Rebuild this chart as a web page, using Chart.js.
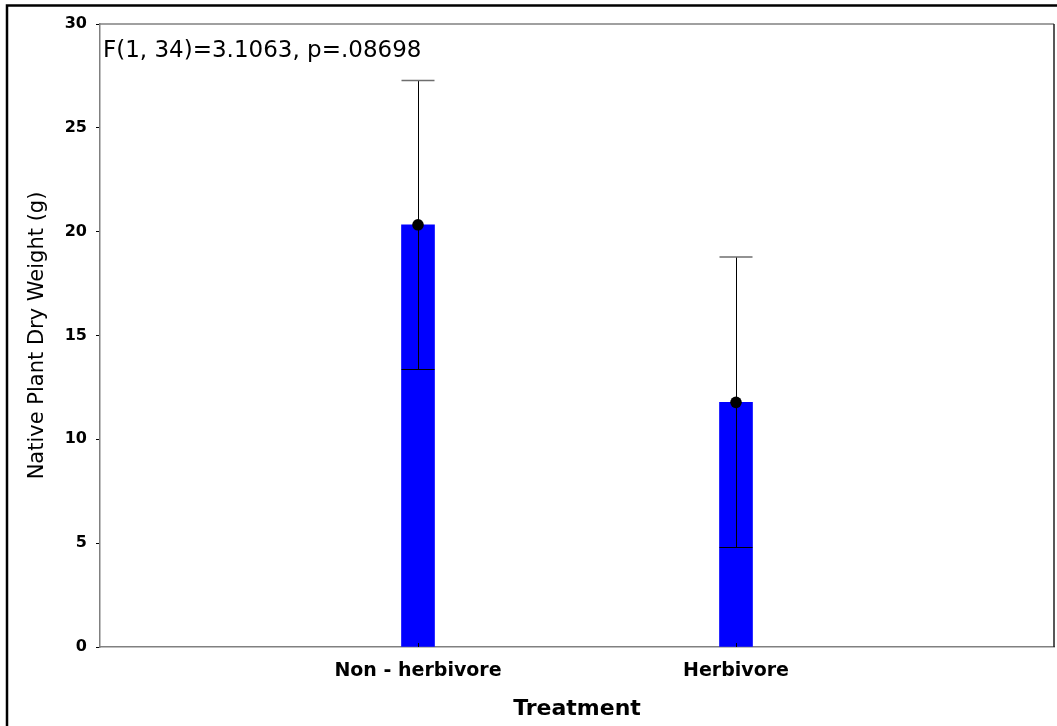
<!DOCTYPE html>
<html lang="en">
<head>
<meta charset="UTF-8">
<script src="https://cdn.jsdelivr.net/npm/chart.js"></script>
<style>
  html, body { margin: 0; padding: 0; background: #ffffff; }
  #wrap { width: 1057px; height: 726px; }
</style>
</head>
<body>
<div id="wrap"><canvas id="chart" width="1057" height="726"></canvas></div>
<script>
// values
const categories = ['Non - herbivore', 'Herbivore'];
const means = [20.33, 11.78];
const errUpper = [27.28, 18.78];
const errLower = [13.38, 4.80];
const yTicks = [0, 5, 10, 15, 20, 25, 30];
const statText = 'F(1, 34)=3.1063, p=.08698';

// empty slots at both ends put the two groups at 1/3 and 2/3 of the axis
const labels = ['', ...categories, ''];
const barData = [null, ...means, null];

const FONT = 'DejaVu Sans';

// error bars drawn right after the bars, before the mean dots
const errorBars = {
  id: 'errorBars',
  afterDatasetDraw(chart, args) {
    if (args.index !== 0) return;
    const ctx = chart.ctx;
    const y = chart.scales.y;
    args.meta.data.forEach((bar, i) => {
      const k = i - 1;
      if (k < 0 || k >= categories.length) return;
      const x = Math.round(bar.x) + 0.5;
      const half = bar.width / 2;
      const yt = y.getPixelForValue(errUpper[k]);
      const yb = y.getPixelForValue(errLower[k]);
      ctx.save();
      ctx.strokeStyle = '#000';
      ctx.lineWidth = 1;
      ctx.beginPath();
      ctx.moveTo(x, yt);
      ctx.lineTo(x, yb);
      ctx.stroke();
      // lower cap
      ctx.beginPath();
      ctx.moveTo(bar.x - half, Math.round(yb) + 0.5);
      ctx.lineTo(bar.x + half, Math.round(yb) + 0.5);
      ctx.stroke();
      // upper cap
      ctx.strokeStyle = '#6e6e6e';
      ctx.lineWidth = 1.5;
      ctx.beginPath();
      ctx.moveTo(bar.x - half, yt);
      ctx.lineTo(bar.x + half, yt);
      ctx.stroke();
      // small inner tick on the x axis
      ctx.strokeStyle = '#000';
      ctx.lineWidth = 1;
      ctx.beginPath();
      ctx.moveTo(x, chart.chartArea.bottom);
      ctx.lineTo(x, chart.chartArea.bottom - 4);
      ctx.stroke();
      ctx.restore();
    });
  }
};

// plot box, outer frame and the statistics note
const decor = {
  id: 'decor',
  beforeDraw(chart) {
    const ctx = chart.ctx;
    ctx.save();
    ctx.fillStyle = '#ffffff';
    ctx.fillRect(0, 0, chart.width, chart.height);
    ctx.restore();
  },
  afterDraw(chart) {
    const ctx = chart.ctx;
    const a = chart.chartArea;
    ctx.save();
    ctx.strokeStyle = '#808080';
    ctx.lineWidth = 1.5;
    ctx.beginPath();
    ctx.moveTo(a.left, a.top);
    ctx.lineTo(a.right, a.top);
    ctx.stroke();
    ctx.strokeStyle = '#202020';
    ctx.beginPath();
    ctx.moveTo(a.right, a.top);
    ctx.lineTo(a.right, a.bottom);
    ctx.stroke();

    ctx.strokeStyle = '#000';
    ctx.lineWidth = 2.5;
    ctx.beginPath();
    ctx.moveTo(chart.width, 5.5);
    ctx.lineTo(7, 5.5);
    ctx.lineTo(7, chart.height);
    ctx.stroke();

    ctx.fillStyle = '#000';
    ctx.font = '23px "' + FONT + '"';
    ctx.textBaseline = 'alphabetic';
    ctx.textAlign = 'left';
    ctx.fillText(statText, a.left + 3, a.top + 33);
    ctx.restore();
  }
};

new Chart(document.getElementById('chart'), {
  type: 'bar',
  data: {
    labels: labels,
    datasets: [
      {
        label: 'Mean',
        data: barData,
        backgroundColor: '#0000ff',
        borderWidth: 0,
        barThickness: 33,
        order: 2
      },
      {
        type: 'line',
        label: 'Mean point',
        data: barData,
        showLine: false,
        pointRadius: 5.8,
        pointBackgroundColor: '#000',
        pointBorderColor: '#000',
        pointBorderWidth: 0,
        order: 1
      }
    ]
  },
  options: {
    responsive: false,
    animation: false,
    devicePixelRatio: 1,
    layout: { autoPadding: false, padding: { top: 24, right: 3, left: 0, bottom: 0 } },
    plugins: {
      legend: { display: false },
      tooltip: { enabled: false }
    },
    scales: {
      x: {
        offset: false,
        afterFit: s => { s.height = 79; s.paddingLeft = 0; s.paddingRight = 0; },
        border: { display: true, color: '#808080', width: 1.5 },
        grid: { display: false },
        ticks: {
          color: '#000',
          autoSkip: false,
          maxRotation: 0,
          padding: 5,
          font: { family: FONT, size: 19, weight: 'bold' }
        },
        title: {
          display: true,
          text: 'Treatment',
          color: '#000',
          font: { family: FONT, size: 22, weight: 'bold' },
          padding: { top: 0, bottom: 4 }
        }
      },
      y: {
        min: 0,
        max: 30,
        afterBuildTicks: s => { s.ticks = yTicks.map(v => ({ value: v })); },
        afterFit: s => { s.width = 100; },
        border: { display: true, color: '#808080', width: 1.5 },
        grid: { drawOnChartArea: false, drawTicks: true, tickLength: 4, color: '#000' },
        ticks: {
          color: '#000',
          padding: 9,
          font: { family: FONT, size: 16, weight: 'bold' }
        },
        title: {
          display: true,
          text: 'Native Plant Dry Weight (g)',
          color: '#000',
          font: { family: FONT, size: 21 },
          padding: { top: 25, bottom: 0 }
        }
      }
    }
  },
  plugins: [errorBars, decor]
});
</script>
</body>
</html>
